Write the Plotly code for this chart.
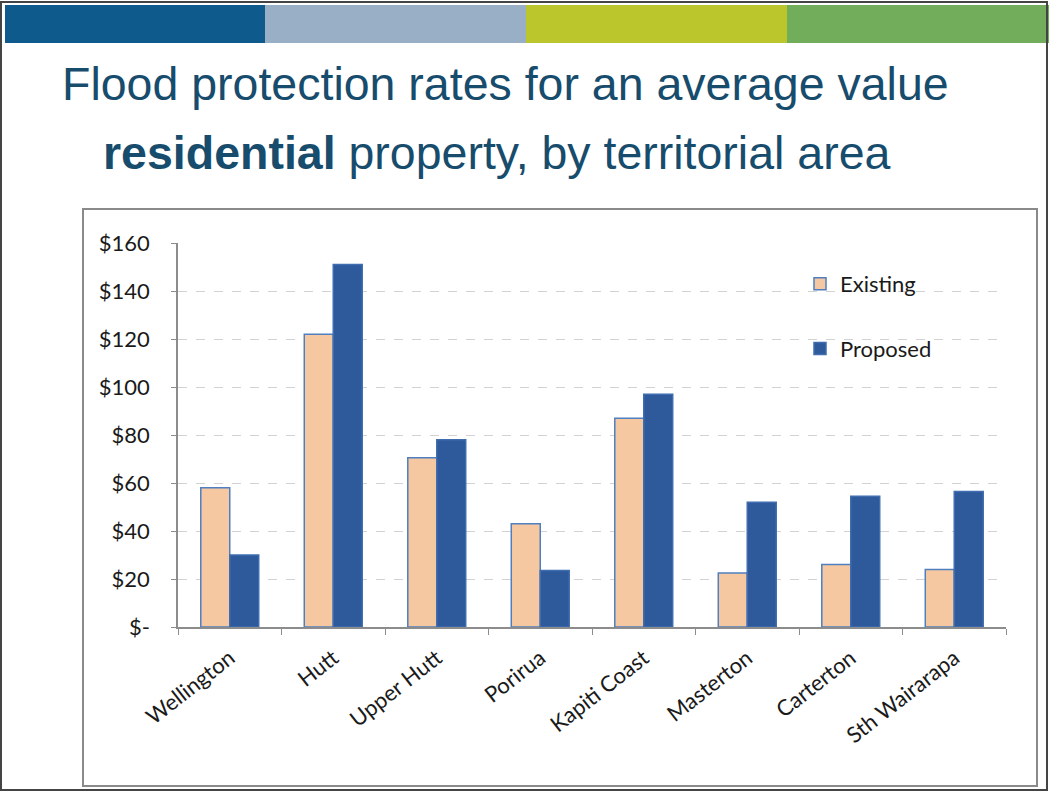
import plotly.graph_objects as go

categories = ["Wellington", "Hutt", "Upper Hutt", "Porirua", "Kapiti Coast",
              "Masterton", "Carterton", "Sth Wairarapa"]
existing = [58, 122, 70.5, 43, 87, 22.5, 26, 24]
proposed = [30, 151, 78, 23.5, 97, 52, 54.5, 56.5]
y_tickvals = [0, 20, 40, 60, 80, 100, 120, 140, 160]
y_ticktext = ["$-", "$20", "$40", "$60", "$80", "$100", "$120", "$140", "$160"]

W, H = 1049, 792
L, R, T, B = 178, 1006, 243, 627  # plot area in pixels


def px(x):
    return (x - L) / (R - L)


def py(y):
    return (B - y) / (B - T)


fig = go.Figure()
fig.add_trace(go.Bar(
    x=categories, y=existing, name="Existing", legendgroup="a",
    marker=dict(color="#F5C8A2", line=dict(color="#4F7FBF", width=1.5)),
))
fig.add_trace(go.Bar(
    x=categories, y=proposed, name="Proposed", legendgroup="b",
    marker=dict(color="#2E5A9C", line=dict(color="#3F6DB0", width=1.5)),
))

shapes = []
band_cols = ["#0E5A8C", "#98AFC6", "#BBC62C", "#72AD5B"]
band_x = [5, 265, 526, 787, 1049]
for i, c in enumerate(band_cols):
    shapes.append(dict(type="rect", xref="paper", yref="paper",
                       x0=px(band_x[i]), x1=px(band_x[i + 1]),
                       y0=py(43), y1=py(5), fillcolor=c, line=dict(width=0),
                       layer="below"))
# chart frame
shapes.append(dict(type="rect", xref="paper", yref="paper",
                   x0=px(83), x1=px(1037), y0=py(786), y1=py(209),
                   line=dict(color="#8A8A8A", width=2), layer="below"))
# outer slide border
shapes.append(dict(type="rect", xref="paper", yref="paper",
                   x0=px(1), x1=px(1047), y0=py(790), y1=py(2),
                   line=dict(color="#444444", width=2), layer="below"))

title_font = dict(family="Liberation Sans, Arial, sans-serif", size=46.5, color="#174C6D")
annotations = [
    dict(text="Flood protection rates for an average value", xref="paper", yref="paper",
         x=px(60), y=py(84), xanchor="left", yanchor="middle", showarrow=False,
         font=title_font),
    dict(text="<b>residential</b> property, by territorial area", xref="paper", yref="paper",
         x=px(101), y=py(153), xanchor="left", yanchor="middle", showarrow=False,
         font=title_font),
]

fig.update_layout(
    width=W, height=H,
    margin=dict(l=L, r=W - R, t=T, b=H - B, pad=0),
    paper_bgcolor="white", plot_bgcolor="white",
    barmode="group", bargap=0.44, bargroupgap=0,
    font=dict(family="Lato, Open Sans, sans-serif", size=22, color="#1A1A1A"),
    shapes=shapes, annotations=annotations,
    legend=dict(x=px(800), y=py(263), xanchor="left", yanchor="top",
                tracegroupgap=33, bgcolor="rgba(0,0,0,0)",
                font=dict(size=22, color="#1A1A1A")),
)
fig.update_yaxes(range=[0, 160], tickvals=y_tickvals, ticktext=y_ticktext,
                 showline=True, linecolor="#8C8C8C", linewidth=1.5,
                 ticks="outside", ticklen=5, tickcolor="#8C8C8C",
                 ticklabelstandoff=17,
                 showgrid=True, gridcolor="#D2D2D2", griddash="dash", gridwidth=1,
                 zeroline=False, fixedrange=True)
fig.update_xaxes(showline=True, linecolor="#8C8C8C", linewidth=1.5,
                 ticks="outside", ticklen=6, tickcolor="#8C8C8C",
                 tickson="boundaries", tickangle=-38, ticklabelstandoff=8,
                 tickfont=dict(size=22), showgrid=False, fixedrange=True)

fig.write_html("out.html")
